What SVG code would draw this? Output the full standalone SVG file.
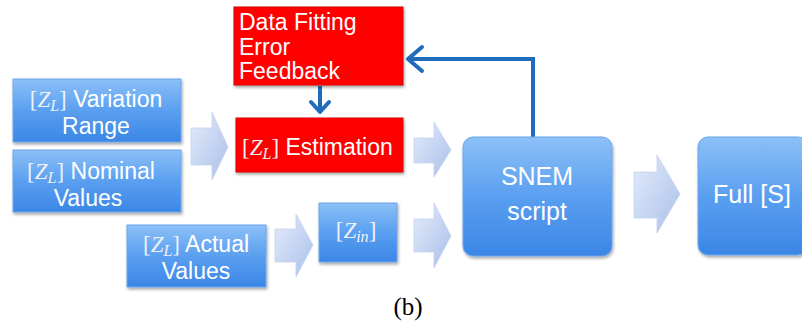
<svg xmlns="http://www.w3.org/2000/svg" width="802" height="327" viewBox="0 0 802 327">
<defs>
<linearGradient id="bg" x1="0" y1="0" x2="0" y2="1">
<stop offset="0" stop-color="#8cc0f7"/>
<stop offset="0.5" stop-color="#5a9ff0"/>
<stop offset="1" stop-color="#3b86e6"/>
</linearGradient>
<linearGradient id="ag" x1="0" y1="0" x2="1" y2="1">
<stop offset="0" stop-color="#e4ecfb"/>
<stop offset="1" stop-color="#a9bfe9"/>
</linearGradient>
<filter id="sh" x="-10%" y="-10%" width="125%" height="130%">
<feGaussianBlur in="SourceAlpha" stdDeviation="1.5"/>
<feOffset dx="1" dy="2"/>
<feComponentTransfer><feFuncA type="linear" slope="0.35"/></feComponentTransfer>
<feMerge><feMergeNode/><feMergeNode in="SourceGraphic"/></feMerge>
</filter>
</defs>
<style>
.blue{fill:url(#bg);stroke:#6aa6ec;stroke-width:1;filter:url(#sh)}
.red{fill:#ff0000;stroke:#d40000;stroke-width:1;filter:url(#sh)}
.t{font-family:"Liberation Sans",Arial,sans-serif;font-size:23px;fill:#ffffff}
.big{font-size:25px}
.m{font-family:"Liberation Serif","Times New Roman",serif;fill:#eef2f8}
.sub{font-size:16px}
.arr{fill:url(#ag);stroke:#c4d3ef;stroke-width:0.8}
.conn{fill:none;stroke:#1f6cbd;stroke-width:4;stroke-linejoin:miter}
.head{fill:none;stroke:#1f6cbd;stroke-width:4;stroke-linecap:round;stroke-linejoin:round}
</style>
<rect width="802" height="327" fill="#ffffff"/>

<g id="connectors">
<path class="arr" d="M191,128 L212,128 L212,112 L228,147 L212,180 L212,165 L191,165 Z"/>
<path class="arr" d="M414,138 L434,138 L434,122 L451,150 L434,177 L434,163 L414,163 Z"/>
<path class="arr" d="M414,219 L434,219 L434,203 L451,236 L434,268 L434,252 L414,252 Z"/>
<path class="arr" d="M275,229 L296,229 L296,214 L313,245 L296,277 L296,262 L275,262 Z"/>
<path class="arr" d="M634,172 L657,172 L657,155 L680,194 L657,233 L657,218 L634,218 Z"/>
<path class="conn" d="M533,137 L533,59 L410,59"/>
<path class="head" d="M422,47 L408,59 L422,71"/>
<path class="conn" d="M320,86 L320,112"/>
<path class="head" d="M311,102 L320,112 L329,102"/>
</g>

<g id="data-fitting">
<rect class="red" x="234" y="7" width="169" height="78"/>
<text class="t" x="239" y="30">Data Fitting</text>
<text class="t" x="239" y="55">Error</text>
<text class="t" x="239" y="79">Feedback</text>
</g>

<g id="estimation">
<rect class="red" x="236" y="118" width="167" height="54"/>
<text class="t" x="242" y="155"><tspan class="m">[</tspan><tspan class="m" font-style="italic">Z</tspan><tspan class="m sub" font-style="italic" dy="4">L</tspan><tspan class="m" dy="-4">]</tspan> Estimation</text>
</g>

<g id="variation-range">
<rect class="blue" x="13" y="79" width="168" height="63"/>
<text class="t" x="96" y="107" text-anchor="middle"><tspan class="m">[</tspan><tspan class="m" font-style="italic">Z</tspan><tspan class="m sub" font-style="italic" dy="4">L</tspan><tspan class="m" dy="-4">]</tspan> Variation</text>
<text class="t" x="96" y="134" text-anchor="middle">Range</text>
</g>

<g id="nominal-values">
<rect class="blue" x="13" y="150" width="168" height="62"/>
<text class="t" x="91" y="179" text-anchor="middle"><tspan class="m">[</tspan><tspan class="m" font-style="italic">Z</tspan><tspan class="m sub" font-style="italic" dy="4">L</tspan><tspan class="m" dy="-4">]</tspan> Nominal</text>
<text class="t" x="88" y="206" text-anchor="middle">Values</text>
</g>

<g id="actual-values">
<rect class="blue" x="127" y="225" width="139" height="62"/>
<text class="t" x="196" y="252" text-anchor="middle"><tspan class="m">[</tspan><tspan class="m" font-style="italic">Z</tspan><tspan class="m sub" font-style="italic" dy="4">L</tspan><tspan class="m" dy="-4">]</tspan> Actual</text>
<text class="t" x="196" y="279" text-anchor="middle">Values</text>
</g>

<g id="z-in">
<rect class="blue" x="319" y="203" width="78" height="59"/>
<text class="t" x="356" y="238" text-anchor="middle"><tspan class="m">[</tspan><tspan class="m" font-style="italic">Z</tspan><tspan class="m sub" font-style="italic" dy="4">in</tspan><tspan class="m" dy="-4">]</tspan></text>
</g>

<g id="snem-script">
<rect class="blue" x="463" y="137" width="149" height="119" rx="10"/>
<text class="t big" x="537" y="185" text-anchor="middle">SNEM</text>
<text class="t big" x="537" y="220" text-anchor="middle">script</text>
</g>

<g id="full-s">
<rect class="blue" x="698" y="137" width="110" height="118" rx="10"/>
<text class="t big" x="752" y="203" text-anchor="middle">Full [S]</text>
</g>

<text x="408" y="315" text-anchor="middle" font-family="Liberation Serif, Times New Roman, serif" font-size="25" fill="#000">(b)</text>
</svg>
